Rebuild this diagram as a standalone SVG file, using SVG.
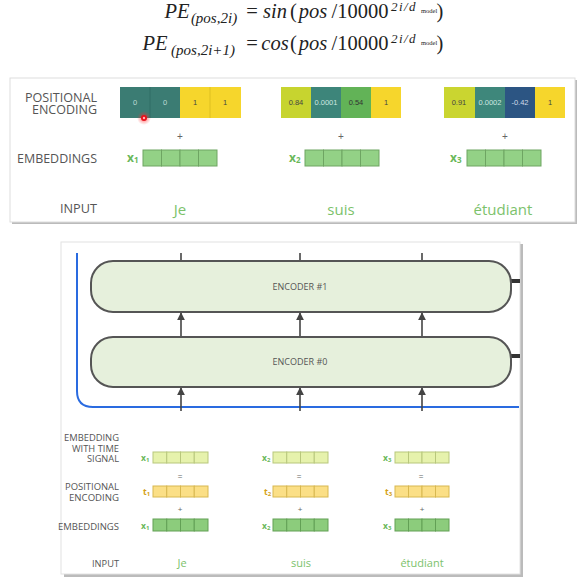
<svg xmlns="http://www.w3.org/2000/svg" width="581" height="584" viewBox="0 0 581 584">
<defs>
<style>
.eq{font-family:"Liberation Serif",serif;font-style:italic;fill:#222;font-size:20.5px;text-anchor:middle}
.eqn{font-family:"Liberation Serif",serif;fill:#222;font-size:20.5px;text-anchor:middle}
.sub{font-size:15px}
.sup{font-size:13px;letter-spacing:1.5px}
.tiny{font-family:"Liberation Serif",serif;fill:#222;font-size:6.5px}
.lbl{font-family:"Open Sans","Liberation Sans",sans-serif;fill:#555;text-anchor:end}
.big{font-size:12px}
.sm{font-size:9px}
.cell{font-family:"Liberation Sans",sans-serif;font-size:7.5px;text-anchor:middle}
.word{font-family:"Open Sans","Liberation Sans",sans-serif;fill:#7cc26b;text-anchor:middle}
.xl{font-family:"Open Sans","Liberation Sans",sans-serif;font-weight:bold;fill:#6ab85a}
.tl{font-family:"Open Sans","Liberation Sans",sans-serif;font-weight:bold;fill:#d4a017}
.op{font-family:"Liberation Sans",sans-serif;fill:#666;text-anchor:middle}
.emb{fill:#93d186;stroke:#6ea562;stroke-width:1}
.emb2{fill:#8ccc7c;stroke:#62a055;stroke-width:1}
.pe2{fill:#fbdf86;stroke:#d8b850;stroke-width:1}
.ets{fill:#e6f2ac;stroke:#b8c77c;stroke-width:1}
.enc{fill:#e6f0dc;stroke:#555;stroke-width:2}
.conn{stroke:#444;stroke-width:1.6;fill:none}
.encl{font-family:"Open Sans","Liberation Sans",sans-serif;font-size:9px;fill:#555;text-anchor:middle}
</style>
<marker id="ah" viewBox="0 0 10 10" refX="9" refY="5" markerWidth="5" markerHeight="5" orient="auto">
<path d="M0,0 L10,5 L0,10 z" fill="#444"/>
</marker>
<radialGradient id="glow">
<stop offset="0" stop-color="#ff3030" stop-opacity="0.7"/>
<stop offset="1" stop-color="#ff3030" stop-opacity="0"/>
</radialGradient>
</defs>
<rect width="581" height="584" fill="#fff"/>

<!-- equations -->
<g id="equation-1">
<text class="eq" x="177" y="18">PE</text>
<text class="eq sub" x="214" y="23">(pos,2i)</text>
<text class="eqn" x="252" y="18">=</text>
<text class="eq" x="275" y="18">sin</text>
<text class="eqn" x="293.5" y="18">(</text>
<text class="eq" x="313" y="18">pos</text>
<text class="eqn" x="360" y="18">/10000</text>
<text class="eq sup" x="404" y="11">2i/d</text>
<text class="tiny" x="421" y="13">model</text>
<text class="eqn" x="440" y="18">)</text>
</g>
<g id="equation-2">
<text class="eq" x="155" y="50">PE</text>
<text class="eq sub" x="203" y="55">(pos,2i+1)</text>
<text class="eqn" x="252" y="50">=</text>
<text class="eq" x="275" y="50">cos</text>
<text class="eqn" x="293.5" y="50">(</text>
<text class="eq" x="313" y="50">pos</text>
<text class="eqn" x="360" y="50">/10000</text>
<text class="eq sup" x="404" y="43">2i/d</text>
<text class="tiny" x="421" y="45">model</text>
<text class="eqn" x="440" y="50">)</text>
</g>

<!-- top panel -->
<g id="top-panel">
<rect x="12" y="80" width="565" height="144" fill="#bbb"/>
<rect x="10" y="78" width="565" height="144" fill="#fff" stroke="#ddd" stroke-width="1"/>
<text class="lbl big" x="97" y="101.5" textLength="72" lengthAdjust="spacingAndGlyphs">POSITIONAL</text>
<text class="lbl big" x="97" y="114" textLength="65" lengthAdjust="spacingAndGlyphs">ENCODING</text>
<text class="lbl big" x="97" y="163" textLength="80" lengthAdjust="spacingAndGlyphs">EMBEDDINGS</text>
<text class="lbl big" x="97" y="213" textLength="37" lengthAdjust="spacingAndGlyphs">INPUT</text>
</g>

<g id="pe1">
<rect x="120" y="87" width="30" height="31" fill="#3b7c73"/>
<rect x="150" y="87" width="30" height="31" fill="#3b7c73"/>
<rect x="180" y="87" width="30" height="31" fill="#f6d62c"/>
<rect x="210" y="87" width="31" height="31" fill="#f6d62c"/>
<line x1="150" y1="87" x2="150" y2="118" stroke="#2f6a62" stroke-width="0.8"/>
<line x1="210" y1="87" x2="210" y2="118" stroke="#d9bb1e" stroke-width="0.8"/>
<text class="cell" x="135" y="105" fill="#bfdcd6">0</text>
<text class="cell" x="165" y="105" fill="#bfdcd6">0</text>
<text class="cell" x="195" y="105" fill="#444">1</text>
<text class="cell" x="225" y="105" fill="#444">1</text>
</g>
<g id="pe2">
<rect x="281" y="87" width="30" height="31" fill="#c7d42f"/>
<rect x="311" y="87" width="30" height="31" fill="#3d857a"/>
<rect x="341" y="87" width="30" height="31" fill="#62b357"/>
<rect x="371" y="87" width="30" height="31" fill="#f6d62c"/>
<text class="cell" x="296" y="105" fill="#444">0.84</text>
<text class="cell" x="326" y="105" fill="#cfe6e0">0.0001</text>
<text class="cell" x="356" y="105" fill="#333">0.54</text>
<text class="cell" x="386" y="105" fill="#444">1</text>
</g>
<g id="pe3">
<rect x="444" y="87" width="31" height="31" fill="#cad530"/>
<rect x="475" y="87" width="30" height="31" fill="#3e877b"/>
<rect x="505" y="87" width="30" height="31" fill="#2c5583"/>
<rect x="535" y="87" width="30" height="31" fill="#f6d62c"/>
<text class="cell" x="459" y="105" fill="#444">0.91</text>
<text class="cell" x="490" y="105" fill="#cfe6e0">0.0002</text>
<text class="cell" x="520" y="105" fill="#d0dbe8">-0.42</text>
<text class="cell" x="550" y="105" fill="#444">1</text>
</g>

<g id="plus-top">
<text class="op" x="180" y="140" font-size="10">+</text>
<text class="op" x="341" y="140" font-size="10">+</text>
<text class="op" x="505" y="140" font-size="10">+</text>
</g>

<g id="emb-top-1">
<text class="xl" x="127" y="162" font-size="12">x<tspan font-size="8" dy="1">1</tspan></text>
<rect class="emb" x="143" y="150" width="18.5" height="16"/>
<rect class="emb" x="161.5" y="150" width="18.5" height="16"/>
<rect class="emb" x="180" y="150" width="18.5" height="16"/>
<rect class="emb" x="198.5" y="150" width="18.5" height="16"/>
</g>
<g id="emb-top-2">
<text class="xl" x="289" y="162" font-size="12">x<tspan font-size="8" dy="1">2</tspan></text>
<rect class="emb" x="305" y="150" width="18.5" height="16"/>
<rect class="emb" x="323.5" y="150" width="18.5" height="16"/>
<rect class="emb" x="342" y="150" width="18.5" height="16"/>
<rect class="emb" x="360.5" y="150" width="18.5" height="16"/>
</g>
<g id="emb-top-3">
<text class="xl" x="450" y="162" font-size="12">x<tspan font-size="8" dy="1">3</tspan></text>
<rect class="emb" x="467" y="150" width="18.5" height="16"/>
<rect class="emb" x="485.5" y="150" width="18.5" height="16"/>
<rect class="emb" x="504" y="150" width="18.5" height="16"/>
<rect class="emb" x="522.5" y="150" width="18.5" height="16"/>
</g>

<g id="words-top">
<text class="word" x="180" y="215" font-size="15">Je</text>
<text class="word" x="341" y="215" font-size="15">suis</text>
<text class="word" x="503" y="215" font-size="15">étudiant</text>
</g>

<g id="cursor">
<circle cx="144" cy="118" r="7" fill="url(#glow)"/>
<circle cx="144" cy="118" r="3" fill="#e8101a"/>
<circle cx="144" cy="118" r="1.2" fill="#ffb0b0"/>
</g>

<!-- bottom panel -->
<g id="bottom-panel">
<rect x="64" y="244" width="459" height="333" fill="#bbb"/>
<rect x="61" y="242" width="459" height="332" fill="#fff" stroke="#e2e2e2" stroke-width="1"/>
<path d="M77,253 V391 Q77,407 93,407 H519" fill="none" stroke="#2a6be0" stroke-width="2"/>
</g>

<g id="connectors">
<line class="conn" x1="181" y1="253" x2="181" y2="261"/>
<line class="conn" x1="300" y1="253" x2="300" y2="261"/>
<line class="conn" x1="422" y1="253" x2="422" y2="261"/>
<line class="conn" x1="181" y1="337" x2="181" y2="313" marker-end="url(#ah)"/>
<line class="conn" x1="300" y1="337" x2="300" y2="313" marker-end="url(#ah)"/>
<line class="conn" x1="422" y1="337" x2="422" y2="313" marker-end="url(#ah)"/>
<line class="conn" x1="181" y1="411" x2="181" y2="388" marker-end="url(#ah)"/>
<line class="conn" x1="300" y1="411" x2="300" y2="388" marker-end="url(#ah)"/>
<line class="conn" x1="422" y1="411" x2="422" y2="388" marker-end="url(#ah)"/>
<line x1="511" y1="281" x2="520" y2="281" stroke="#333" stroke-width="4"/>
<line x1="511" y1="356" x2="520" y2="356" stroke="#333" stroke-width="4"/>
</g>

<g id="encoder1">
<rect class="enc" x="91" y="261" width="420" height="51" rx="22" ry="22"/>
<text class="encl" x="300" y="290">ENCODER #1</text>
</g>
<g id="encoder0">
<rect class="enc" x="91" y="337" width="420" height="50" rx="22" ry="22"/>
<text class="encl" x="300" y="365">ENCODER #0</text>
</g>

<g id="labels-bottom">
<text class="lbl sm" x="119" y="441" textLength="55" lengthAdjust="spacingAndGlyphs">EMBEDDING</text>
<text class="lbl sm" x="119" y="451.5" textLength="47" lengthAdjust="spacingAndGlyphs">WITH TIME</text>
<text class="lbl sm" x="119" y="462" textLength="32" lengthAdjust="spacingAndGlyphs">SIGNAL</text>
<text class="lbl sm" x="119" y="490" textLength="54" lengthAdjust="spacingAndGlyphs">POSITIONAL</text>
<text class="lbl sm" x="119" y="501" textLength="50" lengthAdjust="spacingAndGlyphs">ENCODING</text>
<text class="lbl sm" x="119" y="530" textLength="61" lengthAdjust="spacingAndGlyphs">EMBEDDINGS</text>
<text class="lbl sm" x="119" y="567" textLength="27" lengthAdjust="spacingAndGlyphs">INPUT</text>
</g>

<g id="col1">
<text class="xl" x="141" y="461" font-size="8.5">x<tspan font-size="6" dy="1">1</tspan></text>
<rect class="ets" x="153" y="452" width="13.75" height="11"/><rect class="ets" x="166.75" y="452" width="13.75" height="11"/><rect class="ets" x="180.5" y="452" width="13.75" height="11"/><rect class="ets" x="194.25" y="452" width="13.75" height="11"/>
<text class="op" x="180" y="479" font-size="8">=</text>
<text class="tl" x="143" y="495" font-size="8.5">t<tspan font-size="6" dy="1">1</tspan></text>
<rect class="pe2" x="153" y="486" width="13.75" height="11"/><rect class="pe2" x="166.75" y="486" width="13.75" height="11"/><rect class="pe2" x="180.5" y="486" width="13.75" height="11"/><rect class="pe2" x="194.25" y="486" width="13.75" height="11"/>
<text class="op" x="180" y="512" font-size="8">+</text>
<text class="xl" x="141" y="529" font-size="8.5">x<tspan font-size="6" dy="1">1</tspan></text>
<rect class="emb2" x="153" y="519" width="13.75" height="12"/><rect class="emb2" x="166.75" y="519" width="13.75" height="12"/><rect class="emb2" x="180.5" y="519" width="13.75" height="12"/><rect class="emb2" x="194.25" y="519" width="13.75" height="12"/>
<text class="word" x="182" y="567" font-size="11">Je</text>
</g>
<g id="col2">
<text class="xl" x="262" y="461" font-size="8.5">x<tspan font-size="6" dy="1">2</tspan></text>
<rect class="ets" x="273" y="452" width="13.75" height="11"/><rect class="ets" x="286.75" y="452" width="13.75" height="11"/><rect class="ets" x="300.5" y="452" width="13.75" height="11"/><rect class="ets" x="314.25" y="452" width="13.75" height="11"/>
<text class="op" x="299" y="479" font-size="8">=</text>
<text class="tl" x="264" y="495" font-size="8.5">t<tspan font-size="6" dy="1">2</tspan></text>
<rect class="pe2" x="273" y="486" width="13.75" height="11"/><rect class="pe2" x="286.75" y="486" width="13.75" height="11"/><rect class="pe2" x="300.5" y="486" width="13.75" height="11"/><rect class="pe2" x="314.25" y="486" width="13.75" height="11"/>
<text class="op" x="300" y="512" font-size="8">+</text>
<text class="xl" x="262" y="529" font-size="8.5">x<tspan font-size="6" dy="1">2</tspan></text>
<rect class="emb2" x="273" y="519" width="13.75" height="12"/><rect class="emb2" x="286.75" y="519" width="13.75" height="12"/><rect class="emb2" x="300.5" y="519" width="13.75" height="12"/><rect class="emb2" x="314.25" y="519" width="13.75" height="12"/>
<text class="word" x="301" y="567" font-size="11">suis</text>
</g>
<g id="col3">
<text class="xl" x="383" y="461" font-size="8.5">x<tspan font-size="6" dy="1">3</tspan></text>
<rect class="ets" x="395" y="452" width="13.5" height="11"/><rect class="ets" x="408.5" y="452" width="13.5" height="11"/><rect class="ets" x="422" y="452" width="13.5" height="11"/><rect class="ets" x="435.5" y="452" width="13.5" height="11"/>
<text class="op" x="421" y="479" font-size="8">=</text>
<text class="tl" x="385" y="495" font-size="8.5">t<tspan font-size="6" dy="1">3</tspan></text>
<rect class="pe2" x="395" y="486" width="13.5" height="11"/><rect class="pe2" x="408.5" y="486" width="13.5" height="11"/><rect class="pe2" x="422" y="486" width="13.5" height="11"/><rect class="pe2" x="435.5" y="486" width="13.5" height="11"/>
<text class="op" x="422" y="512" font-size="8">+</text>
<text class="xl" x="383" y="529" font-size="8.5">x<tspan font-size="6" dy="1">3</tspan></text>
<rect class="emb2" x="395" y="519" width="13.5" height="12"/><rect class="emb2" x="408.5" y="519" width="13.5" height="12"/><rect class="emb2" x="422" y="519" width="13.5" height="12"/><rect class="emb2" x="435.5" y="519" width="13.5" height="12"/>
<text class="word" x="422" y="567" font-size="11">étudiant</text>
</g>
</svg>
